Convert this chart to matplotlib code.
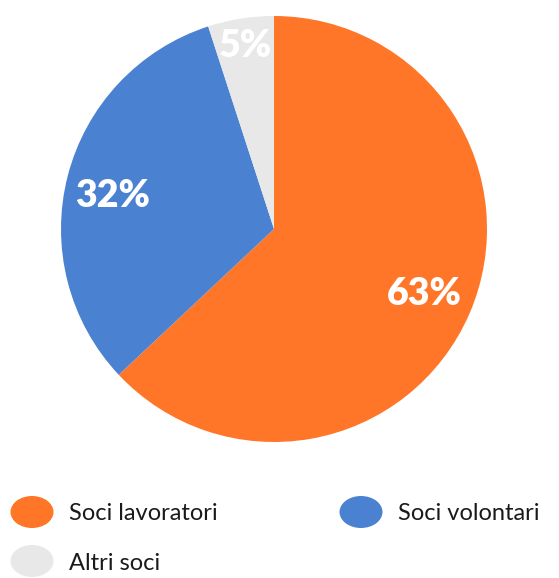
import numpy as np
import matplotlib
matplotlib.use("Agg")
import matplotlib.pyplot as plt
from matplotlib.patches import Ellipse

# data
labels = ["Soci lavoratori", "Soci volontari", "Altri soci"]
shares = [63, 32, 5]
colors = ["#FF7629", "#4A82D1", "#E8E8E8"]

# per-slice placement of the percentage label (radius fraction, angle shift in deg)
label_radius = [0.77, 0.775, 0.87]
label_shift = [0, 3, 0]

W, H = 559, 578
fig = plt.figure(figsize=(W / 100, H / 100), dpi=100)

# pie axes: centre (274, 229) px, radius 213 px
cx, cy, r = 274, 229, 213
ax = fig.add_axes([(cx - r) / W, (H - cy - r) / H, 2 * r / W, 2 * r / H])
wedges, _ = ax.pie(shares, colors=colors, startangle=90, counterclock=False,
                   radius=1.0, wedgeprops=dict(linewidth=0))
ax.set_xlim(-1, 1)
ax.set_ylim(-1, 1)
ax.set_aspect("equal")
ax.axis("off")

for w, val, d, s in zip(wedges, shares, label_radius, label_shift):
    ang = np.deg2rad((w.theta1 + w.theta2) / 2 + s)
    ax.text(d * np.cos(ang), d * np.sin(ang), f"{val}%", ha="center", va="center",
            color="white", fontsize=27, fontweight="heavy", family="Lato")

# legend drawn by hand, like the reference
legend_pos = [(32, 512), (361, 512), (32, 561)]
for (lx, ly), lab, col in zip(legend_pos, labels, colors):
    fig.patches.append(Ellipse((lx / W, 1 - ly / H), 43 / W, 32 / H,
                               transform=fig.transFigure, facecolor=col,
                               edgecolor="none"))
    fig.text((lx + 37) / W, 1 - ly / H, lab, ha="left", va="center_baseline",
             fontsize=17, color="#1a1a1a", family="Lato")

fig.savefig("out.png", dpi=100)
